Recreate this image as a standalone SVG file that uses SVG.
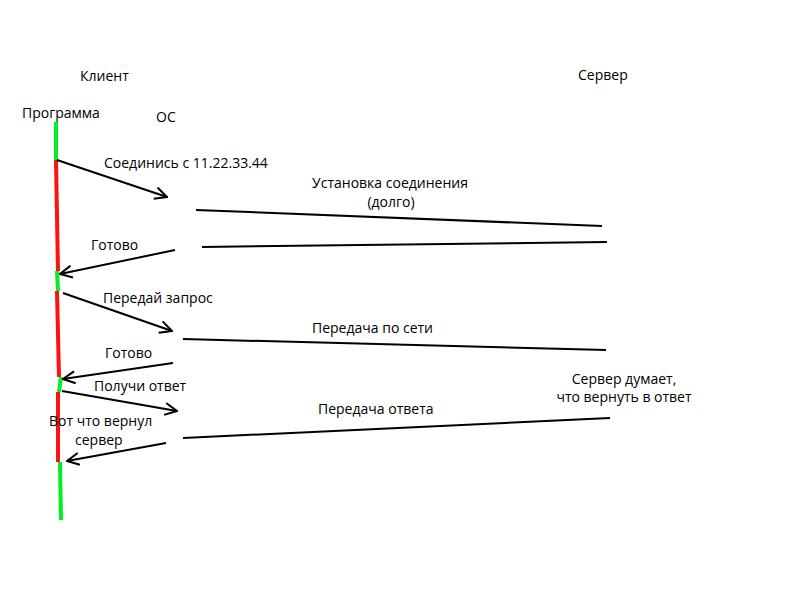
<svg xmlns="http://www.w3.org/2000/svg" width="800" height="600" viewBox="0 0 800 600">
<style>
text{font-family:"Open Sans","Noto Sans",sans-serif;font-size:14px;fill:#000}
.g{stroke:#00ee22;stroke-width:4;fill:none}
.r{stroke:#ff1111;stroke-width:4;fill:none}
.l{stroke:#000;stroke-width:2;fill:none}
.a{stroke:#000;stroke-width:2;fill:none;marker-end:url(#ah)}
</style>
<defs>
<marker id="ah" viewBox="0 0 14 14" refX="13" refY="7" markerWidth="14" markerHeight="14" markerUnits="userSpaceOnUse" orient="auto">
<path d="M1,1 L13,7 L1,13" fill="none" stroke="#000" stroke-width="2"/>
</marker>
</defs>
<rect width="800" height="600" fill="#fff"/>
<g id="labels">
<text x="80" y="81">Клиент</text>
<text x="578" y="80">Сервер</text>
<text x="22" y="118">Программа</text>
<text x="156" y="122">ОС</text>
</g>
<g id="lifeline">
<line class="g" x1="56" y1="122" x2="56" y2="160"/>
<line class="r" x1="56" y1="160" x2="58" y2="271"/>
<line class="g" x1="57" y1="271" x2="58" y2="291"/>
<line class="r" x1="57" y1="291" x2="59" y2="377"/>
<line class="g" x1="61" y1="377" x2="59" y2="392"/>
<line class="r" x1="58" y1="392" x2="58" y2="462"/>
<line class="g" x1="60" y1="462" x2="61" y2="520"/>
</g>
<g id="connectors">
<line class="a" x1="57" y1="160" x2="167" y2="197"/>
<line class="l" x1="196" y1="210" x2="602" y2="226"/>
<line class="l" x1="202" y1="247" x2="607" y2="242"/>
<line class="a" x1="175" y1="250" x2="60" y2="274"/>
<line class="a" x1="63" y1="293" x2="172" y2="331"/>
<line class="l" x1="183" y1="339" x2="606" y2="350"/>
<line class="a" x1="173" y1="363" x2="63" y2="379"/>
<line class="a" x1="62" y1="391" x2="177" y2="411"/>
<line class="l" x1="610" y1="418" x2="183" y2="438"/>
<line class="a" x1="166" y1="443" x2="67" y2="461"/>
</g>
<g id="messages">
<text x="104" y="168">Соединись с 11.22.33.44</text>
<text x="390" y="188" text-anchor="middle">Установка соединения</text>
<text x="391" y="207" text-anchor="middle">(долго)</text>
<text x="91" y="250">Готово</text>
<text x="103" y="303">Передай запрос</text>
<text x="312" y="333">Передача по сети</text>
<text x="105" y="358">Готово</text>
<text x="94" y="391">Получи ответ</text>
<text x="624" y="384" text-anchor="middle">Сервер думает,</text>
<text x="624" y="402" text-anchor="middle">что вернуть в ответ</text>
<text x="318" y="414">Передача ответа</text>
<text x="49" y="426">Вот что вернул</text>
<text x="75" y="445">сервер</text>
</g>
</svg>
